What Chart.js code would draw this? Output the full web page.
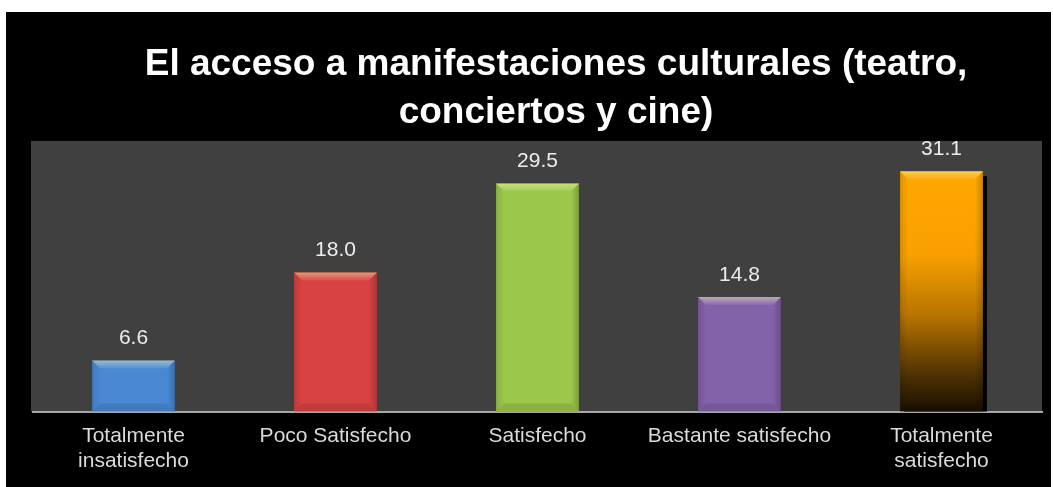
<!DOCTYPE html>
<html lang="es">
<head>
<meta charset="utf-8">
<title>El acceso a manifestaciones culturales</title>
<script src="https://cdn.jsdelivr.net/npm/chart.js@4.4.1/dist/chart.umd.min.js"></script>
<style>
  html, body { margin: 0; padding: 0; background: #fff; }
  canvas { display: block; }
</style>
</head>
<body>
<canvas id="satisfaccionChart" width="1053" height="487"></canvas>
<script>
// Données du graphique
const titleLines = ['El acceso a manifestaciones culturales (teatro,', 'conciertos y cine)'];
const categories = [['Totalmente', 'insatisfecho'], 'Poco Satisfecho', 'Satisfecho', 'Bastante satisfecho', ['Totalmente', 'satisfecho']];
const values = [6.6, 18.0, 29.5, 14.8, 31.1];
const barColors = ['#4a88d4', '#d84242', '#9bc74b', '#8262a9', '#ffa500'];
const yMax = 35;

const FONT = '"Liberation Sans", Arial, sans-serif';
Chart.defaults.font.family = FONT;

// Dégradé orange -> noir pour la dernière barre
function barFill(context) {
    const i = context.dataIndex;
    if (i !== 4) return barColors[i];
    const chart = context.chart;
    const area = chart.chartArea;
    if (!area) return barColors[i];
    const top = chart.scales.y.getPixelForValue(values[i]);
    const g = chart.ctx.createLinearGradient(0, top, 0, area.bottom);
    g.addColorStop(0, '#ffa800');
    g.addColorStop(0.35, '#f7a000');
    g.addColorStop(0.6, '#b87400');
    g.addColorStop(0.85, '#4e3104');
    g.addColorStop(1, '#1a1000');
    return g;
}

const decorPlugin = {
    id: 'decor',
    beforeDraw(chart) {
        const { ctx, chartArea } = chart;
        ctx.save();
        ctx.fillStyle = '#ffffff';
        ctx.fillRect(0, 0, chart.width, chart.height);
        ctx.fillStyle = '#000000';
        ctx.fillRect(6, 12, 1045, chart.height - 12);
        ctx.fillStyle = '#404040';
        ctx.fillRect(chartArea.left - 1.5, chartArea.top, chartArea.right - chartArea.left + 1, chartArea.bottom - chartArea.top);
        // titre
        ctx.fillStyle = '#ffffff';
        ctx.font = 'bold 37px ' + FONT;
        ctx.textAlign = 'center';
        ctx.textBaseline = 'alphabetic';
        ctx.fillText(titleLines[0], 556, 75);
        ctx.fillText(titleLines[1], 556, 123);
        ctx.restore();
    },
    beforeDatasetsDraw(chart) {
        // ombre portée de la barre orange
        const ctx = chart.ctx;
        const bar = chart.getDatasetMeta(0).data[4];
        if (!bar) return;
        ctx.save();
        ctx.fillStyle = '#000000';
        ctx.fillRect(bar.x - bar.width / 2 + 4, bar.y + 5, bar.width, bar.base - bar.y - 5);
        ctx.restore();
    },
    afterDatasetsDraw(chart) {
        const ctx = chart.ctx;
        const b = 8;
        ctx.save();
        chart.getDatasetMeta(0).data.forEach((bar, i) => {
            const l = bar.x - bar.width / 2, r = bar.x + bar.width / 2;
            const t = bar.y, bt = bar.base;
            const poly = (pts, color) => {
                ctx.beginPath();
                ctx.moveTo(pts[0][0], pts[0][1]);
                for (let k = 1; k < pts.length; k++) ctx.lineTo(pts[k][0], pts[k][1]);
                ctx.closePath();
                ctx.fillStyle = color;
                ctx.fill();
            };
            // biseau (plus doux)
            const hl = ctx.createLinearGradient(0, t, 0, t + b);
            hl.addColorStop(0, 'rgba(255,255,160,0.45)');
            hl.addColorStop(1, 'rgba(255,255,255,0.05)');
            poly([[l, t], [r, t], [r - b, t + b], [l + b, t + b]], hl);
            const lg = ctx.createLinearGradient(l, 0, l + b, 0);
            lg.addColorStop(0, 'rgba(0,0,0,0.12)');
            lg.addColorStop(1, 'rgba(0,0,0,0.0)');
            poly([[l, t], [l + b, t + b], [l + b, bt - b], [l, bt]], lg);
            const rg = ctx.createLinearGradient(r, 0, r - b, 0);
            rg.addColorStop(0, 'rgba(0,0,0,0.2)');
            rg.addColorStop(1, 'rgba(0,0,0,0.0)');
            poly([[r, t], [r - b, t + b], [r - b, bt - b], [r, bt]], rg);
            poly([[l, bt], [l + b, bt - b], [r - b, bt - b], [r, bt]], 'rgba(0,0,0,0.1)');

            // étiquette de valeur
            ctx.fillStyle = '#ececec';
            ctx.font = '21px ' + FONT;
            ctx.textAlign = 'center';
            ctx.textBaseline = 'alphabetic';
            ctx.fillText(values[i].toFixed(1), bar.x, t - 16.5);
        });
        ctx.restore();
    }
};

new Chart(document.getElementById('satisfaccionChart').getContext('2d'), {
    type: 'bar',
    data: {
        labels: categories,
        datasets: [{
            data: values,
            backgroundColor: barFill,
            borderWidth: 0,
            barPercentage: 0.41,
            categoryPercentage: 1.0
        }]
    },
    options: {
        responsive: false,
        animation: false,
        devicePixelRatio: 1,
        layout: { padding: { left: 32.5, right: 10.5, top: 141, bottom: 0 } },
        scales: {
            x: {
                grid: { display: false, drawTicks: false },
                border: { display: true, color: '#a6a6a6', width: 2 },
                ticks: { color: '#dadada', font: { size: 21, lineHeight: 1.15 }, padding: 13, maxRotation: 0 },
                afterFit(scale) { scale.height = 75.5; }
            },
            y: {
                display: false,
                min: 0,
                max: yMax
            }
        },
        plugins: {
            legend: { display: false },
            tooltip: { enabled: false }
        }
    },
    plugins: [decorPlugin]
});
</script>
</body>
</html>
